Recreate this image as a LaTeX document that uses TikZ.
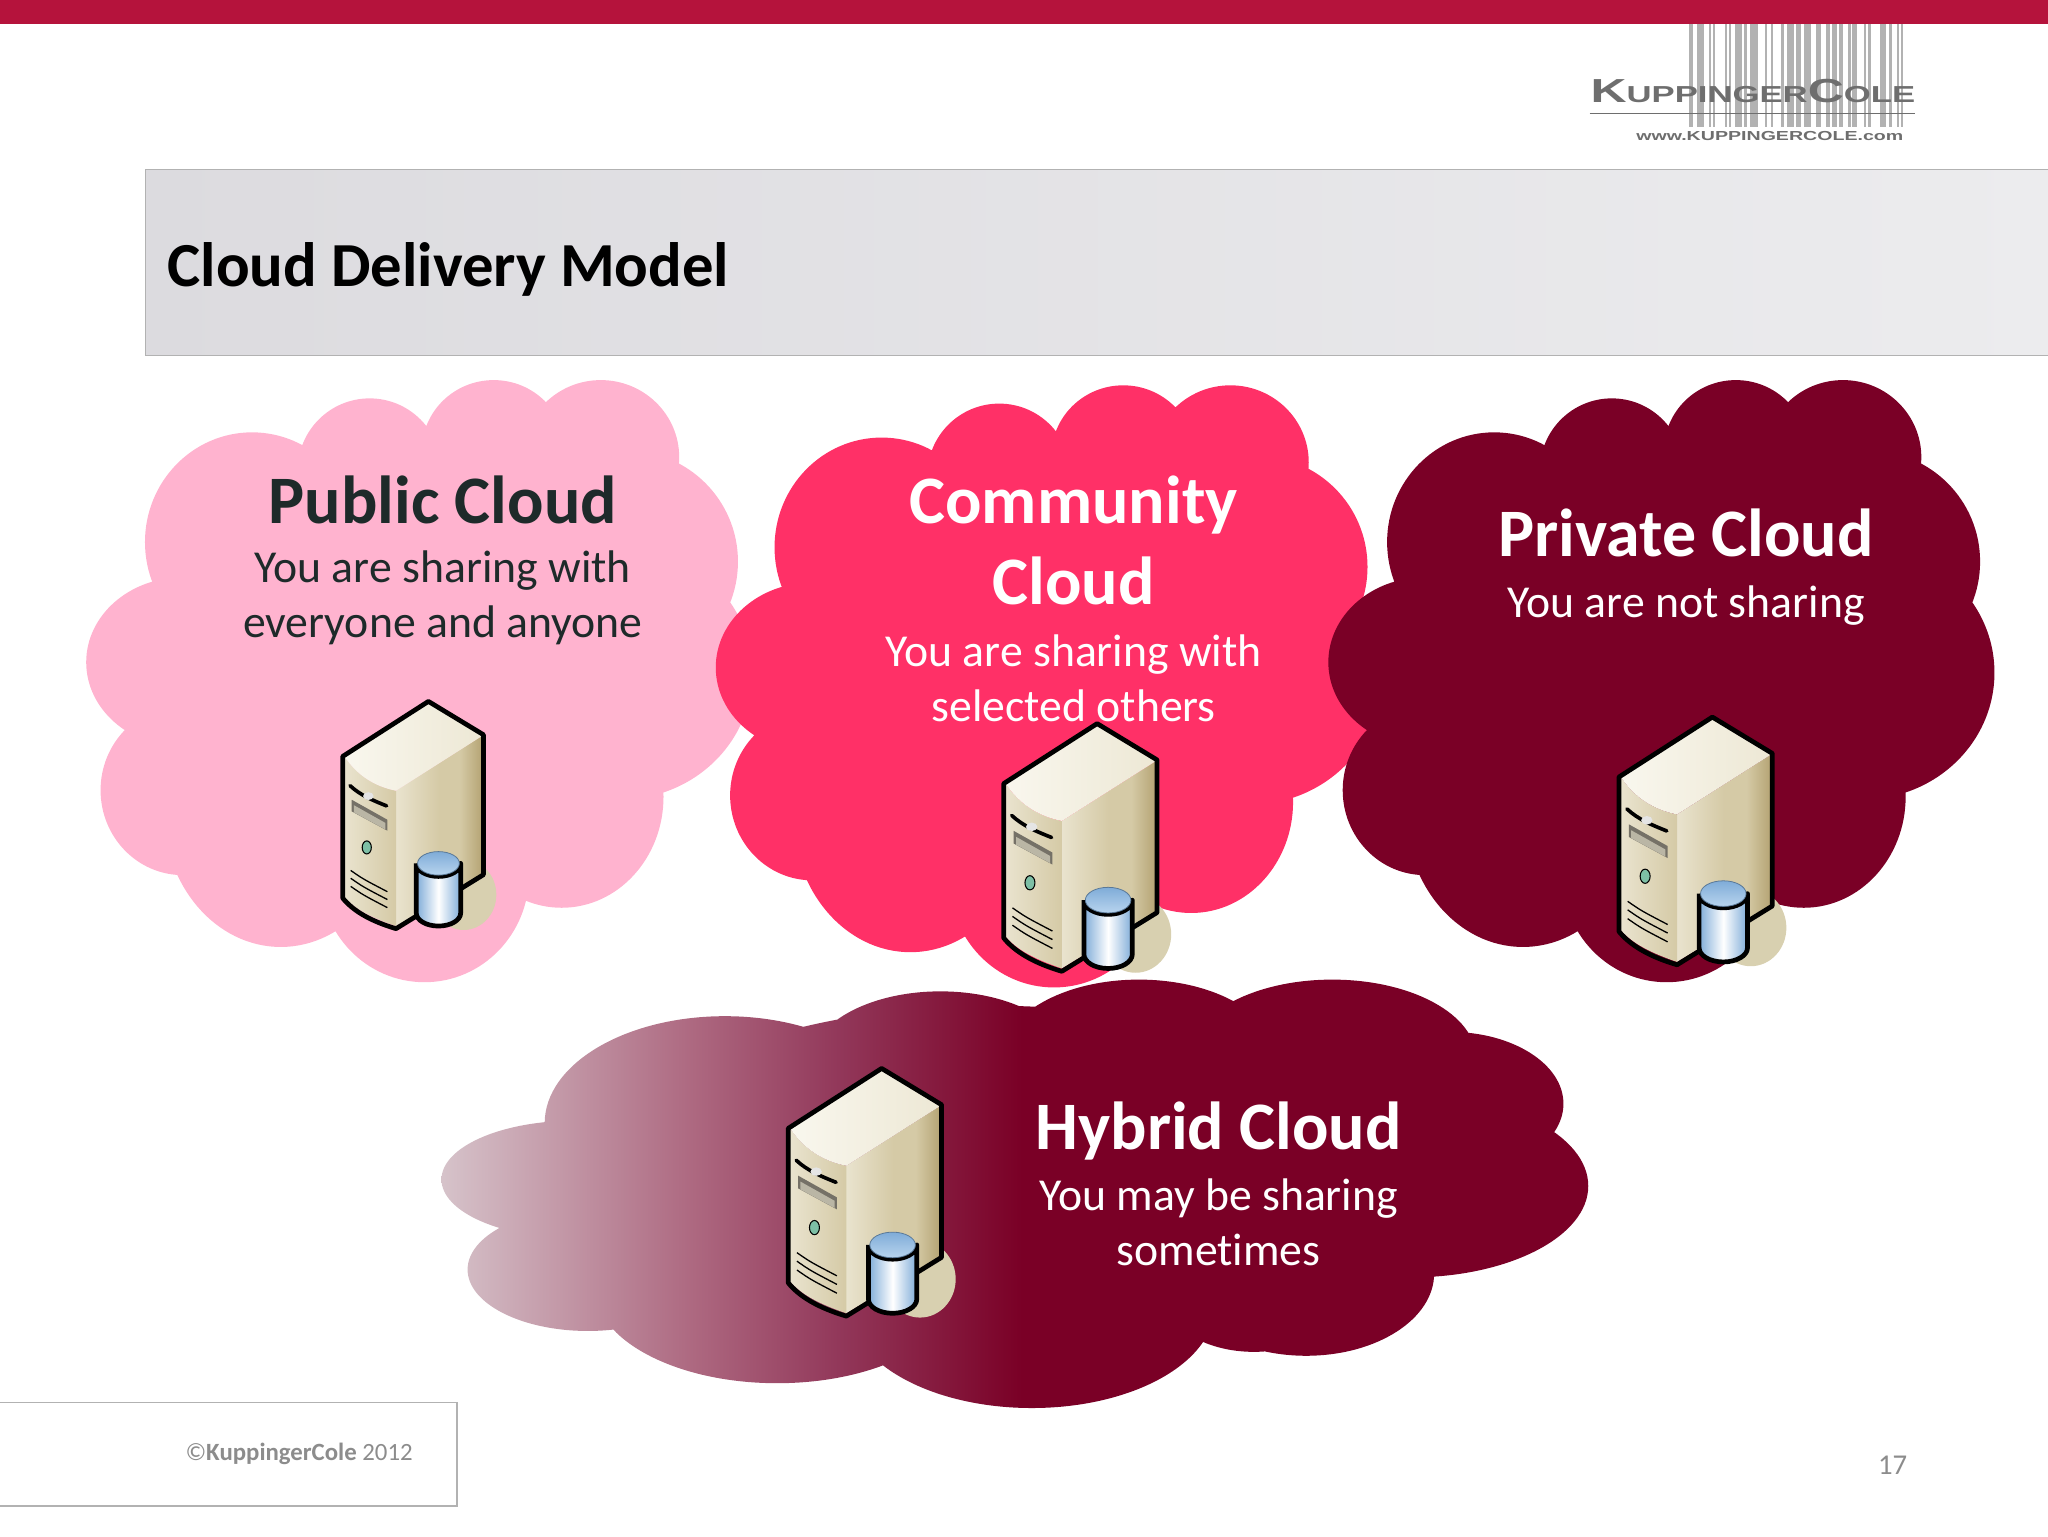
\documentclass[tikz,border=0pt]{standalone}
\usepackage{fontspec}
\setmainfont[Ligatures=NoCommon]{Carlito}
\newfontfamily\logofont[FakeStretch=1.5]{Liberation Sans}
\definecolor{barred}{HTML}{B5133C}
\definecolor{pubpink}{HTML}{FFB3CF}
\definecolor{commred}{HTML}{FF3067}
\definecolor{privdark}{HTML}{7A0026}
\definecolor{darktext}{HTML}{1E2A2A}
\definecolor{logogrey}{HTML}{6E6E6E}
\definecolor{footgrey}{HTML}{8C8C8C}
\definecolor{bandleft}{HTML}{DCDBDF}
\definecolor{bandright}{HTML}{ECECEE}
\definecolor{fadeleft}{HTML}{D6C3CA}
\definecolor{fademid}{HTML}{AD6880}
\definecolor{fadedeep}{HTML}{92385A}
\definecolor{srvshadow}{HTML}{D8D0B0}
\definecolor{srvpale}{HTML}{F9F7EE}
\definecolor{srvtop}{HTML}{EDE8D5}
\definecolor{srvcream}{HTML}{E9E3CE}
\definecolor{srvsand}{HTML}{D5CAA6}
\definecolor{srvdark}{HTML}{B5A474}
\definecolor{cylblue}{HTML}{7FACD8}
\definecolor{cyllid}{HTML}{B8D4EE}
\definecolor{ledgreen}{HTML}{7DBFA5}
\pgfdeclarehorizontalshading{hybridfade}{100bp}{color(0bp)=(fadeleft); color(25bp)=(fadeleft); color(36bp)=(fademid); color(42.3bp)=(fadedeep); color(50.3bp)=(privdark); color(100bp)=(privdark)}
\pgfdeclarehorizontalshading{sideface}{100bp}{color(0bp)=(srvcream); color(25bp)=(srvcream); color(50bp)=(srvsand); color(62bp)=(srvsand); color(75bp)=(srvdark); color(100bp)=(srvdark)}
\tikzset{
  headtext/.style={align=center, font=\bfseries\fontsize{52}{62}\selectfont},
  bodytext/.style={align=center, font=\fontsize{35}{42}\selectfont},
  srvline/.style={line width=3.6pt, line join=round},
  cloud/.pic={
    \fill[#1] \foreach \cx/\cy/\rx/\ry in {315/525/210/165, 193/415/82/84, 283/360/55/55, 378/345/55/54, 460/350/60/59,
      480/430/85/85, 475/515/101/97, 140/507/74/65, 140/605/63/65, 215/620/90/105, 325/670/80/82, 430/610/78/85}
      {(\cx,\cy) ellipse [x radius=\rx, y radius=\ry]};
  },
  server/.pic={
    \fill[srvshadow] (27,148) ellipse [x radius=25, y radius=27];
    \shade[shading=sideface]
      (-24.8,68.4) -- (41,26.5) -- (41,132) -- (-24.8,172) -- cycle;
    \shade[left color=srvcream, right color=srvsand]
      (-64,42.5) -- (-64,150) .. controls (-55,160) and (-42,166) .. (-24.8,172) -- (-24.8,68.4)
      .. controls (-42,65) and (-55,56) .. (-64,42.5);
    \shade[left color=srvpale, right color=srvtop]
      (0,1.5) -- (41,26.5) -- (-24.8,68.4) .. controls (-42,65) and (-55,56) .. (-64,42.5) -- cycle;
    \draw[srvline] (0,0) -- (42.1,25.5) -- (42.1,132.7) -- (-24.8,174)
      .. controls (-45,168) and (-58,160) .. (-65.6,150.6) -- (-65.6,42.1) -- cycle;
    \draw[line width=2.8pt, line cap=round] (-60,64.5) .. controls (-52,72) and (-42,76) .. (-32,80);
    \fill[white!90!black] (-46,72.5) ellipse [x radius=4, y radius=3];
    \fill[srvcream!50!black] (-58.7,75.3) -- (-31.4,90.6) -- (-31.4,99) -- (-58.7,84.2) -- cycle;
    \fill[srvcream!80!black] (-57,79.5) -- (-33,93) -- (-33,98) -- (-57,85) -- cycle;
    \draw[line width=.8pt, fill=ledgreen] (-47.2,111.8) ellipse [x radius=3.5, y radius=5];
    \foreach \ventdy in {0,6,12.2}
      \draw[line width=1pt] (-59.5,129.4+\ventdy) .. controls (-50,136+\ventdy) .. (-31.4,145.7+\ventdy);
    \path[srvline, draw=black, left color=cylblue, right color=cylblue, middle color=white]
      (-9.3,124) -- (-9.3,162) arc [start angle=180, end angle=0, x radius=17, y radius=10]
      -- (24.7,124) arc [start angle=0, end angle=180, x radius=17, y radius=10];
    \shade[top color=cylblue, bottom color=cyllid, draw=cylblue!70!black, line width=.6pt]
      (7.7,124) ellipse [x radius=16, y radius=9];
  }
}
\begin{document}
\begin{tikzpicture}[x=1pt, y=-1pt]
  \useasboundingbox (0,0) rectangle (1568,1176);
  \fill[barred] (0,0) rectangle (1568,18);

  % logo
  \foreach \barl/\barr in {540/545,547/552,562/584,597/603,608/615,643/650,655/660,673/692,697/705,716/738,
    758/765,775/782,803/812,822/840,848/860,870/890,905/918,932/945,950/965,970/982,996/1003,1008/1022,
    1040/1048,1054/1062,1088/1105,1113/1120,1135/1140,1146/1153}
    \fill[black!30] ({1148.5+.2676*\barl},18) rectangle ({1148.5+.2676*\barr},97);
  \node[text=logogrey, inner sep=0pt, font=\logofont\bfseries\fontsize{17.7}{18}\selectfont] (logoname) at (1342,70)
    {{\fontsize{25.5}{26}\selectfont K}UPPINGER{\fontsize{25.5}{26}\selectfont C}OLE};
  \coordinate (logoleft) at (1217,87);
  \coordinate (logoright) at (1466,87);
  \draw[logogrey, line width=1pt] (logoleft) -- (logoright);
  \node[text=logogrey, inner sep=0pt, font=\logofont\bfseries\fontsize{10}{10}\selectfont] (logourl) at (1355,104)
    {www.KUPPINGERCOLE.com};

  % title band
  \draw[black!30, line width=1pt, left color=bandleft, right color=bandright] (111.5,130) rectangle (1569,272);
  \node[anchor=west, inner sep=0pt, font=\bfseries\fontsize{48}{50}\selectfont] (title) at (128,206) {Cloud Delivery Model};

  % clouds
  \pic at (0,0) {cloud=pubpink};
  \pic at (482,4) {cloud=commred};
  \pic at (951,0) {cloud=privdark};
  \shade[shading=hybridfade] \foreach \cx/\cy/\rx/\ry in {760/900/300/130, 555/860/138/82, 720/815/100/56, 872/810/105/60,
    1020/810/110/60, 1110/845/87/55, 1080/908/136/70, 1000/975/98/63, 960/990/70/45, 790/1000/140/78, 595/985/140/74, 450/972/92/47, 440/903/102/45}
    {(\cx,\cy) ellipse [x radius=\rx, y radius=\ry]};

  % servers
  \pic at (328,537) {server};
  \pic[scale=1.09] at (840,554) {server};
  \pic[scale=1.09] at (1311,549) {server};
  \pic[scale=1.09] at (675,818) {server};

  % texts
  \node[headtext, text=darktext] (pubhead) at (339,383) {Public Cloud};
  \node[bodytext, text=darktext] (pubbody) at (339,458) {You are sharing with\\everyone and anyone};
  \node[headtext, text=white] (commhead) at (822,414) {Community\\Cloud};
  \node[bodytext, text=white] (commbody) at (822,519) {You are sharing with\\selected others};
  \node[headtext, text=white] (privhead) at (1291,408) {Private Cloud};
  \node[bodytext, text=white] (privbody) at (1291,464) {You are not sharing};
  \node[headtext, text=white] (hybhead) at (933,866) {Hybrid Cloud};
  \node[bodytext, text=white] (hybbody) at (933,936) {You may be sharing\\sometimes};

  % footer
  \draw[black!30, line width=1pt] (-2,1074) rectangle (350,1153);
  \node[text=footgrey, inner sep=0pt, font=\fontsize{19}{20}\selectfont] (copyright) at (229,1113.5) {©\textbf{KuppingerCole} 2012};
  \node[text=footgrey, inner sep=0pt, font=\fontsize{22}{24}\selectfont] (pagenum) at (1449,1122) {17};
\end{tikzpicture}
\end{document}
